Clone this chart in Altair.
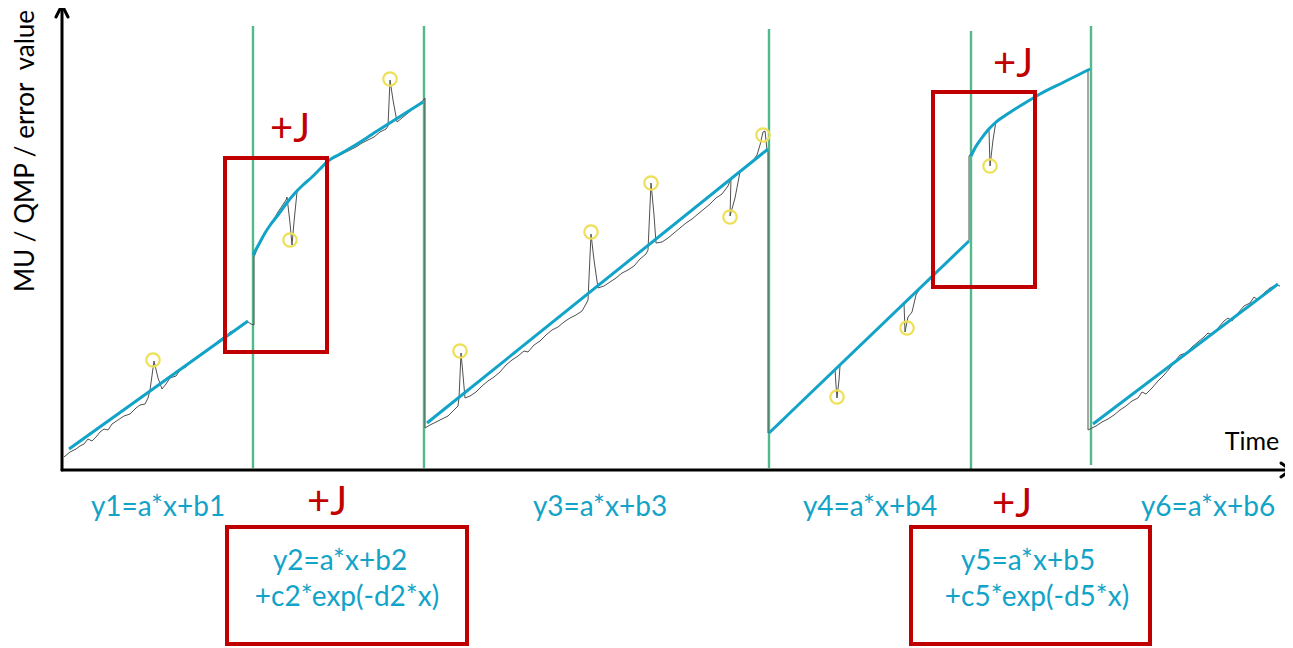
import altair as alt
import pandas as pd

# ---------------- data (schematic coordinates: x = time units, y = value units, y grows downward) -------------
# green change-point lines
change_x = [253, 424, 769, 971, 1091]
change_top = [26, 26, 29, 31, 26]
change_bottom = [468, 468, 468, 470, 465]

# fitted segments (blue)
fit_seg = ([1] * 2 + [2] * 17 + [3] * 2 + [4] * 2 + [5] * 11 + [6] * 2)
fit_x = [69, 248,
         253, 259, 265, 271, 278, 286, 295, 303, 312, 320, 328, 340, 352, 368, 385, 404, 423,
         427, 768,
         769, 969,
         971, 975, 981, 988, 995, 1003, 1012, 1025, 1040, 1064, 1090,
         1093, 1278]
fit_y = [449, 321,
         255, 244, 233, 224, 215, 204, 193, 185, 177, 169, 161, 154, 147, 137, 126, 114, 102,
         423, 149,
         433, 241,
         156, 148, 139, 130, 123, 117, 111, 103, 94, 82, 69,
         424, 284]

# raw measured trace (gray)
raw_x = [64, 70, 76, 80, 84, 88, 92, 96, 100, 104, 108, 112, 118, 124, 130, 136, 140, 145, 148, 150, 154, 158, 162,
         166, 170, 176, 180, 186, 192, 198, 204, 210, 216, 222, 226, 230, 236, 240, 244, 248, 251, 254,
         254, 258, 262, 266, 270, 274, 278, 282, 286, 287, 290, 292, 294, 297, 302, 308, 314, 320, 326, 332, 338,
         344, 350, 356, 362, 368, 374, 380, 386, 388, 390, 393, 397, 402, 408, 414, 420, 425,
         425, 430, 436, 442, 448, 454, 458, 459, 461, 463, 465, 470, 476, 482, 488, 494, 500, 506, 512, 518, 524,
         528, 534, 540, 546, 552, 558, 564, 570, 576, 582, 586, 588, 591, 594, 598, 604, 610, 616, 622, 628, 634,
         640, 646, 648, 651, 654, 656, 662, 668, 674, 680, 686, 692, 698, 704, 710, 716, 722, 728, 731, 730, 735,
         740, 746, 752, 757, 760, 763, 765, 767, 768,
         768, 775, 782, 788, 794, 800, 806, 812, 818, 824, 830, 835, 836, 837, 839, 840, 846, 852, 858, 864, 870,
         876, 882, 888, 894, 900, 904, 905, 908, 912, 916, 920, 926, 932, 938, 944, 950, 956, 962, 967, 969,
         969, 974, 978, 982, 986, 989, 990, 993, 996, 1000, 1006, 1012, 1018, 1024, 1030, 1036, 1042, 1048, 1054,
         1060, 1066, 1072, 1078, 1084, 1088,
         1088, 1096, 1102, 1108, 1114, 1120, 1126, 1132, 1138, 1142, 1146, 1152, 1158, 1164, 1170, 1176, 1180,
         1186, 1192, 1198, 1204, 1208, 1212, 1218, 1224, 1228, 1232, 1238, 1244, 1250, 1254, 1258, 1264, 1270,
         1276, 1280]
raw_y = [457, 452, 449, 446, 444, 439, 441, 437, 432, 429, 430, 424, 420, 416, 414, 408, 405, 404, 398, 390, 361, 378, 389,
         384, 378, 376, 370, 367, 361, 357, 353, 349, 343, 338, 338, 332, 330, 326, 323, 322, 324, 325,
         257, 247, 239, 231, 224, 219, 212, 206, 200, 197, 223, 245, 222, 192, 186, 180, 174, 168, 163, 159, 156,
         153, 150, 147, 143, 140, 137, 132, 129, 126, 80, 100, 122, 118, 113, 108, 104, 98,
         428, 425, 422, 419, 416, 410, 406, 398, 353, 375, 398, 396, 392, 386, 381, 377, 372, 365, 360, 356, 351,
         352, 345, 341, 335, 330, 327, 322, 318, 315, 311, 304, 300, 234, 260, 288, 286, 282, 278, 273, 270, 266,
         259, 254, 250, 183, 215, 243, 242, 238, 233, 228, 223, 219, 214, 209, 204, 198, 194, 186, 178, 216, 198,
         172, 167, 162, 155, 145, 132, 131, 150, 152,
         433, 428, 422, 415, 409, 404, 398, 392, 386, 380, 375, 369, 385, 398, 380, 366, 358, 353, 347, 342, 336,
         330, 324, 318, 313, 307, 303, 332, 317, 312, 295, 288, 282, 276, 270, 265, 259, 253, 247, 243, 241,
         156, 150, 143, 138, 133, 130, 166, 140, 121, 118, 114, 111, 108, 104, 100, 96, 93, 90, 87,
         84, 81, 78, 76, 72, 70,
         430, 426, 422, 419, 415, 410, 406, 401, 398, 392, 394, 388, 381, 375, 368, 360, 355,
         353, 347, 342, 337, 333, 335, 328, 321, 318, 321, 313, 306, 303, 297, 300, 293, 288,
         285, 286]

# flagged outliers (yellow circles)
out_x = [153, 290, 390, 460, 591, 651, 730, 763, 837, 907, 990]
out_y = [360, 240, 79, 351, 232, 183, 217, 135, 397, 328, 166]

# red highlight boxes: x, x2, y, y2
box_x = [225, 933, 227, 911]
box_x2 = [327, 1035, 467, 1150]
box_y = [158, 92, 527, 527]
box_y2 = [352, 287, 644, 644]

# equation labels
eq_text = ["y1=a*x+b1", "y3=a*x+b3", "y4=a*x+b4", "y6=a*x+b6",
           "y2=a*x+b2", "+c2*exp(-d2*x)", "y5=a*x+b5", "+c5*exp(-d5*x)"]
eq_x = [158, 600, 870, 1208, 340, 347, 1028, 1037]
eq_y = [508, 508, 508, 508, 562, 598, 562, 598]

# jump labels
j_text = ["+J", "+J", "+J", "+J"]
j_x = [290, 1013, 327, 1012]
j_y = [130, 65, 503, 505]

# axes (arrows)
ax_x = [62, 62, 56, 62, 1281, 1291]
ax_x2 = [62, 1291, 62, 68, 1291, 1281]
ax_y = [470, 470, 17, 5, 463, 470]
ax_y2 = [5, 470, 5, 17, 470, 477]

# ---------------- chart ----------------
W, H = 1277, 640
xs = alt.Scale(domain=[8, 8 + W], nice=False, zero=False)
ys = alt.Scale(domain=[8, 8 + H], nice=False, zero=False, reverse=True)

BLUE = "#12a3c8"
RED = "#c00000"
GREEN = "#52b98a"
FONT = "Lato"

def X(f="x"):
    return alt.X(f"{f}:Q", scale=xs, axis=None)

def Y(f="y"):
    return alt.Y(f"{f}:Q", scale=ys, axis=None)

greens = alt.Chart(pd.DataFrame({"x": change_x, "y": change_top, "y2": change_bottom})).mark_rule(
    color=GREEN, strokeWidth=2.4).encode(x=X(), y=Y(), y2="y2:Q")

raw = alt.Chart(pd.DataFrame({"x": raw_x, "y": raw_y, "i": list(range(len(raw_x)))})).mark_line(
    color="#505050", strokeWidth=1).encode(x=X(), y=Y(), order="i:Q")

fit = alt.Chart(pd.DataFrame({"x": fit_x, "y": fit_y, "seg": fit_seg, "i": list(range(len(fit_x)))})).mark_line(
    color=BLUE, strokeWidth=3, interpolate="monotone").encode(x=X(), y=Y(), detail="seg:N", order="i:Q")

circles = alt.Chart(pd.DataFrame({"x": out_x, "y": out_y})).mark_point(
    shape="circle", filled=False, size=180, color="#ede056", strokeWidth=2.2, opacity=1).encode(x=X(), y=Y())

boxes = alt.Chart(pd.DataFrame({"x": box_x, "x2": box_x2, "y": box_y, "y2": box_y2})).mark_rect(
    fill=None, stroke=RED, strokeWidth=4).encode(x=X(), x2="x2:Q", y=Y(), y2="y2:Q")

axes = alt.Chart(pd.DataFrame({"x": ax_x, "x2": ax_x2, "y": ax_y, "y2": ax_y2})).mark_rule(
    color="black", strokeWidth=3, strokeCap="round").encode(x=X(), x2="x2:Q", y=Y(), y2="y2:Q")

eqs = alt.Chart(pd.DataFrame({"x": eq_x, "y": eq_y, "t": eq_text})).mark_text(
    font=FONT, fontSize=28, color=BLUE, align="center", baseline="middle").encode(x=X(), y=Y(), text="t:N")

jumps = alt.Chart(pd.DataFrame({"x": j_x, "y": j_y, "t": j_text})).mark_text(
    font=FONT, fontSize=40, color=RED, align="center", baseline="middle").encode(x=X(), y=Y(), text="t:N")

time_lbl = alt.Chart(pd.DataFrame({"x": [1252], "y": [442], "t": ["Time"]})).mark_text(
    font=FONT, fontSize=25, color="black", align="center", baseline="middle").encode(x=X(), y=Y(), text="t:N")

y_lbl = alt.Chart(pd.DataFrame({"x": [26], "y": [151], "t": ["MU / QMP / error\u00a0 value"]})).mark_text(
    font=FONT, fontSize=26, color="black", align="center", baseline="middle", angle=270).encode(
    x=X(), y=Y(), text="t:N")

chart = alt.layer(greens, raw, fit, circles, boxes, axes, eqs, jumps, time_lbl, y_lbl).properties(
    width=W, height=H, padding=0, background="white", autosize=alt.AutoSizeParams(type="none")
).configure_view(stroke="transparent", strokeWidth=0)

chart.save("out.html", embed_options={"renderer": "svg", "actions": False})
